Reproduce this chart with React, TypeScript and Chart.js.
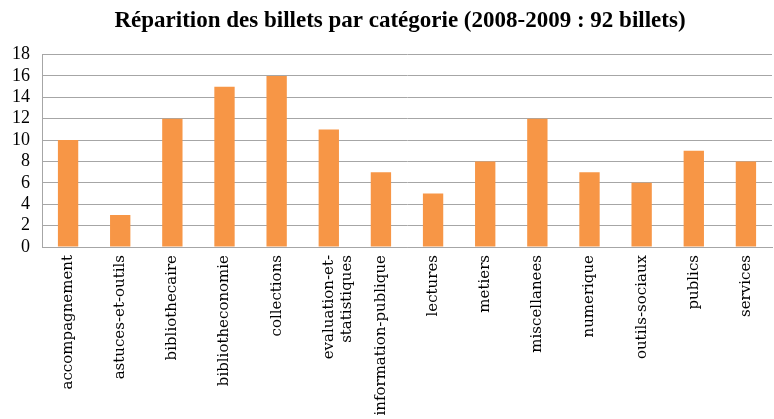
import React, { useEffect, useRef } from "react";
import { Chart, registerables } from "chart.js";

Chart.register(...registerables);

const TITLE = "Réparition des billets par catégorie (2008-2009 : 92 billets)";
const categories: (string | string[])[] = [
  "accompagnement",
  "astuces-et-outils",
  "bibliothecaire",
  "bibliotheconomie",
  "collections",
  ["evaluation-et-", "statistiques"],
  "information-publique",
  "lectures",
  "metiers",
  "miscellanees",
  "numerique",
  "outils-sociaux",
  "publics",
  "services",
];
const counts = [10, 3, 12, 15, 16, 11, 7, 5, 8, 12, 7, 6, 9, 8];
const yTicks = [0, 2, 4, 6, 8, 10, 12, 14, 16, 18];

const titleShift = {
  id: "titleShift",
  afterLayout(chart: any) {
    const t = chart.titleBlock;
    if (t) {
      t.left += 24;
    }
  },
};

export default function App() {
  const ref = useRef<HTMLCanvasElement>(null);
  useEffect(() => {
    document.body.style.margin = "0";
    const ctx = ref.current!.getContext("2d")!;
    const chart = new Chart(ctx, {
      type: "bar",
      data: {
        labels: categories,
        datasets: [
          {
            data: counts,
            backgroundColor: "#F79646",
            borderWidth: 0,
            categoryPercentage: 1,
            barPercentage: 0.39,
          },
        ],
      },
      plugins: [titleShift],
      options: {
        animation: false,
        responsive: false,
        maintainAspectRatio: false,
        layout: { padding: { left: 4, right: 2, top: 0, bottom: 0 } },
        plugins: {
          legend: { display: false },
          tooltip: { enabled: false },
          title: {
            display: true,
            text: TITLE,
            color: "#000",
            font: { family: "'Liberation Serif'", size: 23, weight: "bold", lineHeight: 1.2 },
            padding: { top: 7, bottom: 20 },
          },
        },
        scales: {
          x: {
            grid: { display: false, drawTicks: false },
            border: { display: true, color: "#A6A6A6", width: 1 },
            ticks: {
              color: "#000",
              font: { family: "'DejaVu Serif'", size: 15 },
              minRotation: 90,
              maxRotation: 90,
              autoSkip: false,
              padding: 8,
            },
            afterFit: (scale: any) => {
              scale.height = 172;
            },
          },
          y: {
            min: 0,
            max: 18,
            afterBuildTicks: (scale: any) => {
              scale.ticks = yTicks.map((v) => ({ value: v }));
            },
            grid: { color: "#A6A6A6", drawTicks: false },
            border: { display: true, color: "#A6A6A6", width: 1 },
            ticks: {
              color: "#000",
              font: { family: "'Liberation Serif'", size: 18 },
              padding: 12,
              autoSkip: false,
            },
            afterFit: (scale: any) => {
              scale.width = 38;
            },
          },
        } as any,
      },
    });
    return () => chart.destroy();
  }, []);
  return (
    <div style={{ position: "absolute", left: 0, top: 0, width: 774, height: 419 }}>
      <canvas ref={ref} width={774} height={419} style={{ width: 774, height: 419 }} />
    </div>
  );
}
